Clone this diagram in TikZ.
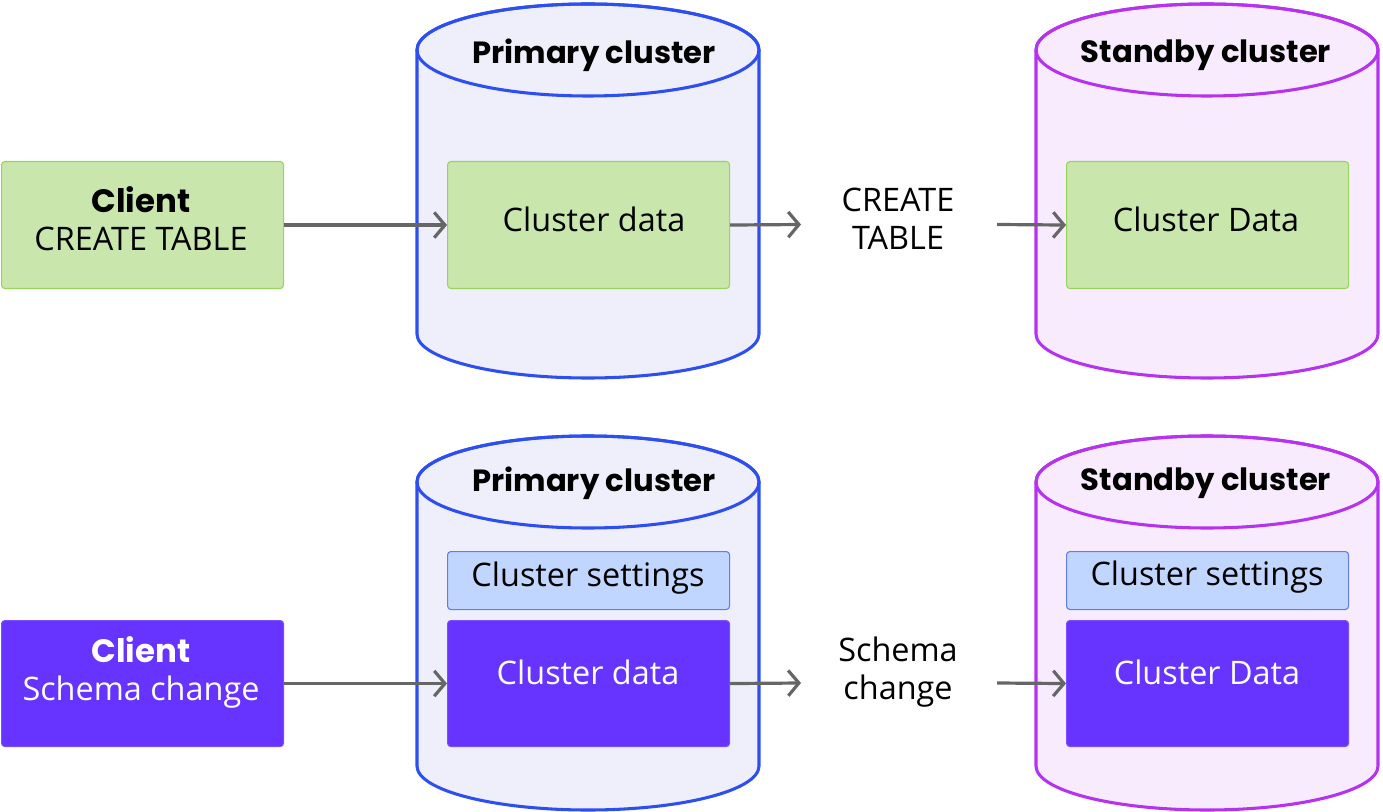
\documentclass[tikz,border=0pt]{standalone}
\usepackage{fontspec}
\setmainfont{Open Sans}
\newfontfamily\titlefont{Poppins}
\usetikzlibrary{arrows.meta}

\definecolor{greenfill}{HTML}{C9E6AD}
\definecolor{greenline}{HTML}{97D45C}
\definecolor{violet}{HTML}{6633FF}
\definecolor{violetline}{HTML}{7A4DFF}
\definecolor{setfill}{HTML}{C1D6FF}
\definecolor{setline}{HTML}{5C7FE0}
\definecolor{primline}{HTML}{2E4FF0}
\definecolor{primfill}{HTML}{EFEFFC}
\definecolor{standline}{HTML}{B533EE}
\definecolor{standfill}{HTML}{F7EBFD}
\definecolor{flow}{HTML}{666666}

\tikzset{
  box/.style={rounded corners=2.5pt, line width=0.8pt, inner sep=0pt, anchor=north west},
  greenbox/.style={box, fill=greenfill, draw=greenline},
  violetbox/.style={box, fill=violet, draw=violetline},
  setbox/.style={box, fill=setfill, draw=setline},
  lbl/.style={font=\fontsize{24.3}{28.5}\selectfont, align=center, inner sep=0pt},
  ttl/.style={font=\titlefont\bfseries\fontsize{23}{28}\selectfont, inner sep=0pt},
  flowarrow/.style={draw=flow, line width=2.4pt, -{Straight Barb[length=8pt, width=19pt, line width=2.4pt]}},
}

% cylinder: #1 centre x, #2 top-ellipse centre y, #3 bottom-arc centre y, #4 fill, #5 line
\newcommand{\drum}[5]{%
  \path[fill=#4, draw=#5, line width=2.3pt]
    (#1-171,#2) -- (#1-171,#3) arc[start angle=180, end angle=360, x radius=128.25pt, y radius=33pt]
    -- (#1+171,#2) arc[start angle=0, end angle=180, x radius=128.25pt, y radius=34.5pt] -- cycle;
  \draw[draw=#5, line width=2.3pt] (#1,#2) ellipse[x radius=128.25pt, y radius=34.5pt];
}

\begin{document}
\begin{tikzpicture}[x=0.75pt, y=-0.75pt]
\useasboundingbox (0,0) rectangle (1383,812);

% ---------- cylinders ----------
\drum{588}{50}{334}{primfill}{primline}
\drum{1207}{50}{334}{standfill}{standline}
\drum{588}{482}{766}{primfill}{primline}
\drum{1207}{482}{766}{standfill}{standline}

\node[ttl] (p1) at (594,55) {Primary cluster};
\node[ttl] (s1) at (1206,55) {Standby cluster};
\node[ttl] (p2) at (594,483) {Primary cluster};
\node[ttl] (s2) at (1206,483) {Standby cluster};

% ---------- top row: CREATE TABLE ----------
\path (1,161) node[greenbox, minimum width=282*0.75pt, minimum height=127*0.75pt] (c1) {};
\node[lbl] at (141,219) {{\titlefont\bfseries Client}\\CREATE TABLE};

\path (447,161) node[greenbox, minimum width=282*0.75pt, minimum height=127*0.75pt] (d1) {};
\node[lbl] at (594,219) {Cluster data};

\path (1066,161) node[greenbox, minimum width=282*0.75pt, minimum height=127*0.75pt] (e1) {};
\node[lbl] at (1206,219) {Cluster Data};

\node[lbl] (m1) at (898,219) {CREATE\\TABLE};

\coordinate (a1) at (801,224.5);
\coordinate (b1) at (997,224.5);
\draw[flowarrow] (c1.east) -- (d1.west);
\draw[flowarrow] (d1.east) -- (a1);
\draw[flowarrow] (b1) -- (e1.west);

% ---------- bottom row: schema change ----------
\path (1,620) node[violetbox, minimum width=282*0.75pt, minimum height=126*0.75pt] (c2) {};
\node[lbl, text=white] at (141,672) {{\titlefont\bfseries Client}\\Schema change};

\path (447,551) node[setbox, minimum width=282*0.75pt, minimum height=58*0.75pt] (g2) {};
\node[lbl] at (588,578) {Cluster settings};
\path (447,620) node[violetbox, minimum width=282*0.75pt, minimum height=126*0.75pt] (d2) {};
\node[lbl, text=white] at (588,672) {Cluster data};

\path (1066,551) node[setbox, minimum width=282*0.75pt, minimum height=58*0.75pt] (h2) {};
\node[lbl] at (1207,577) {Cluster settings};
\path (1066,620) node[violetbox, minimum width=282*0.75pt, minimum height=126*0.75pt] (e2) {};
\node[lbl, text=white] at (1207,672) {Cluster Data};

\node[lbl] (m2) at (898,672) {Schema\\change};

\coordinate (a2) at (801,683);
\coordinate (b2) at (997,683);
\draw[flowarrow] (c2.east) -- (d2.west);
\draw[flowarrow] (d2.east) -- (a2);
\draw[flowarrow] (b2) -- (e2.west);
\end{tikzpicture}
\end{document}
